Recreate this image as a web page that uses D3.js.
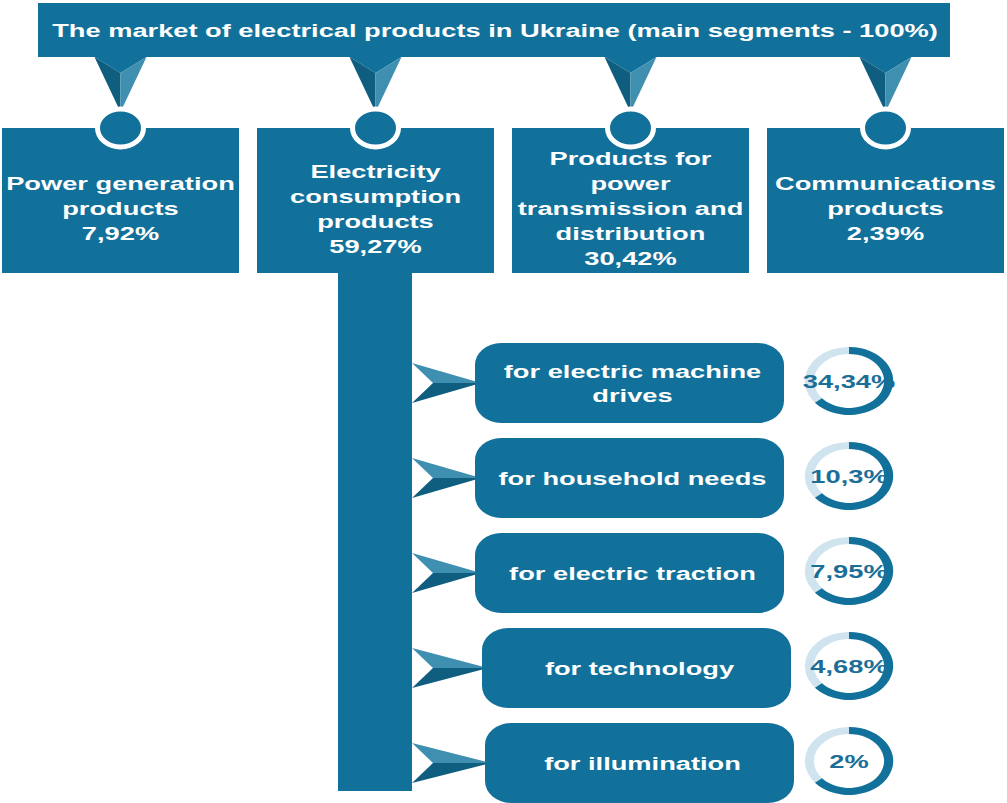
<!DOCTYPE html>
<html>
<head>
<meta charset="utf-8">
<script src="https://cdn.jsdelivr.net/npm/d3@7"></script>
<style>
  body { margin: 0; background: #fff; }
  text { font-family: "Liberation Sans", Arial, sans-serif; font-weight: bold; }
</style>
</head>
<body>
<svg id="chart" width="1007" height="803"></svg>
<script>
const title = "The market of electrical products in Ukraine (main segments - 100%)";

const segments = ["Power generation", "Electricity consumption", "Power transmission", "Communications"];
const segmentLines = [
  ["Power generation", "products"],
  ["Electricity", "consumption", "products"],
  ["Products for", "power", "transmission and", "distribution"],
  ["Communications", "products"]
];
const segmentShares = [7.92, 59.27, 30.42, 2.39];

const subSegments = ["machine drives", "household", "traction", "technology", "illumination"];
const subLines = [
  ["for electric machine", "drives"],
  ["for household needs"],
  ["for electric traction"],
  ["for technology"],
  ["for illumination"]
];
const subShares = [34.34, 10.3, 7.95, 4.68, 2];

// colours
const main = "#12719a", dark = "#0f5e80", light = "#3f8fb1";
const ringLight = "#cfe4ef", ringText = "#1b6e97";

const fmt = v => String(v).replace(".", ",") + "%";

const svg = d3.select("#chart");

// horizontal stretch of the lettering, fitted on the title
const probe = svg.append("text").attr("font-size", 19).text(title);
const sx = 886 / probe.node().getComputedTextLength();
probe.remove();

function label(g, x, y, str, color) {
  g.append("text")
    .attr("transform", `translate(${x},${y}) scale(${sx},1)`)
    .attr("text-anchor", "middle")
    .attr("font-size", 19)
    .attr("fill", color || "#fff")
    .text(str);
}

// title bar
svg.append("rect").attr("x", 38).attr("y", 3).attr("width", 912).attr("height", 54).attr("fill", main);
label(svg, 495, 37, title);

// top segment boxes
const x = d3.scaleBand().domain(segments).range([2, 1004]).paddingInner(18 / 255);

const topRow = svg.append("g");
segments.forEach((s, i) => {
  const cx = x(s) + x.bandwidth() / 2;
  // pyramid pointer
  topRow.append("path").attr("d", `M${cx - 26},57 L${cx + 26},57 L${cx},73 Z`).attr("fill", main);
  topRow.append("path").attr("d", `M${cx - 26},57 L${cx},73 L${cx},112 Z`).attr("fill", dark);
  topRow.append("path").attr("d", `M${cx + 26},57 L${cx},73 L${cx},112 Z`).attr("fill", light);
  topRow.append("rect").attr("x", x(s)).attr("y", 128).attr("width", x.bandwidth()).attr("height", 145).attr("fill", main);
  topRow.append("ellipse").attr("cx", cx).attr("cy", 128).attr("rx", 23).attr("ry", 19)
    .attr("fill", main).attr("stroke", "#fff").attr("stroke-width", 5);
  const lines = segmentLines[i].concat([fmt(segmentShares[i])]);
  const y0 = 208 - (lines.length - 1) * 12.5;
  lines.forEach((l, j) => label(topRow, cx, y0 + j * 25 + 7, l));
});

// trunk from the consumption box
const trunkL = 338, trunkR = 412;
svg.append("rect").attr("x", trunkL).attr("y", 272).attr("width", trunkR - trunkL).attr("height", 519).attr("fill", main);

// sub segments
const y = d3.scaleBand().domain(subSegments).range([343, 803]).paddingInner(15 / 95);
const subShift = [0, 0, 0, 7, 10];
const arcFrac = 0.64; // decorative ring, same on every item in the reference
const ry = 34, rxScale = 1.3;
const ringBg = d3.arc().innerRadius(27).outerRadius(ry).startAngle(0).endAngle(2 * Math.PI);
const ringFg = d3.arc().innerRadius(27).outerRadius(ry).startAngle(0).endAngle(arcFrac * 2 * Math.PI);

const sub = svg.append("g");
subSegments.forEach((s, i) => {
  const cy = y(s) + y.bandwidth() / 2;
  const bx = 475 + subShift[i];
  const bw = 309;
  // arrow connector
  sub.append("path").attr("d", `M${trunkR},${cy - 20} L${bx + 6},${cy} L${433},${cy} Z`).attr("fill", light);
  sub.append("path").attr("d", `M${trunkR},${cy + 20} L${bx + 6},${cy} L${433},${cy} Z`).attr("fill", dark);
  sub.append("rect").attr("x", bx).attr("y", y(s)).attr("width", bw).attr("height", y.bandwidth())
    .attr("rx", 26).attr("ry", 22).attr("fill", main);
  const lines = subLines[i];
  const y0 = cy - (lines.length - 1) * 12;
  lines.forEach((l, j) => label(sub, bx + bw / 2 + 3, y0 + j * 24 + 7, l));

  // ring
  const ring = sub.append("g").attr("transform", `translate(849,${cy - 2}) scale(${rxScale},1)`);
  ring.append("path").attr("d", ringBg()).attr("fill", ringLight);
  ring.append("path").attr("d", ringFg()).attr("fill", main);
  label(sub, 849, cy + 5, fmt(subShares[i]), ringText);
});
</script>
</body>
</html>
